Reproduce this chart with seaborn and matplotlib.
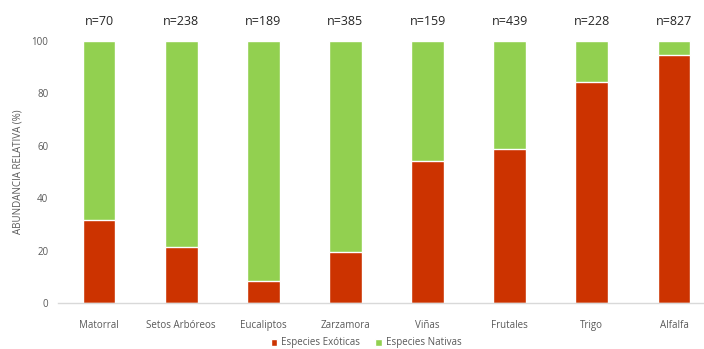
import matplotlib
matplotlib.use("Agg")
import matplotlib.pyplot as plt
import seaborn as sns
import pandas as pd
from matplotlib.patches import Patch

categories = ["Matorral", "Setos Arbóreos", "Eucaliptos", "Zarzamora", "Viñas", "Frutales", "Trigo", "Alfalfa"]
exoticas = [31.6, 21.3, 8.4, 19.5, 54.0, 58.9, 84.4, 94.7]
nativas = [100 - v for v in exoticas]
n_labels = ["n=70", "n=238", "n=189", "n=385", "n=159", "n=439", "n=228", "n=827"]

sns.set_theme(style="white")
plt.rcParams['font.family'] = ['Open Sans', 'DejaVu Sans']

red = "#CC3300"
green = "#92D050"
gray = "#595959"

fig = plt.figure(figsize=(7.04, 3.49), dpi=100)
ax = fig.add_axes([58/704, 45.7/349, 657/704, 262.6/349])

df = pd.DataFrame({"cat": categories, "total": [100]*len(categories), "exo": exoticas})
sns.barplot(data=df, x="cat", y="total", color=green, width=0.4, ax=ax, saturation=1)
sns.barplot(data=df, x="cat", y="exo", color=red, width=0.4, ax=ax, saturation=1)

ax.set_xlim(-0.5, 7.5)
ax.set_ylim(0, 100)
ax.set_yticks([0, 20, 40, 60, 80, 100])
ax.tick_params(axis="x", labelsize=7, colors=gray, length=0, pad=12)
ax.tick_params(axis="y", labelsize=7, colors=gray, length=0, pad=7)
ax.set_xlabel("")
ax.set_ylabel("ABUNDANCIA RELATIVA (%)", fontsize=7, color=gray, labelpad=6)
for s in ["top", "right", "left"]:
    ax.spines[s].set_visible(False)
ax.spines["bottom"].set_color("#D9D9D9")
ax.spines["bottom"].set_linewidth(1)

for i, lab in enumerate(n_labels):
    ax.text(i, 107.5, lab, ha="center", va="center", fontsize=9, color="#262626", clip_on=False)

handles = [Patch(facecolor=red, label="Especies Exóticas"), Patch(facecolor=green, label="Especies Nativas")]
fig.legend(handles=handles, loc="center", bbox_to_anchor=(366/704, 1 - 343/349), ncol=2, frameon=False,
           fontsize=7, labelcolor=gray, handlelength=0.7, handleheight=0.7, handletextpad=0.4, columnspacing=1.5)

fig.savefig("out.png", dpi=100)
